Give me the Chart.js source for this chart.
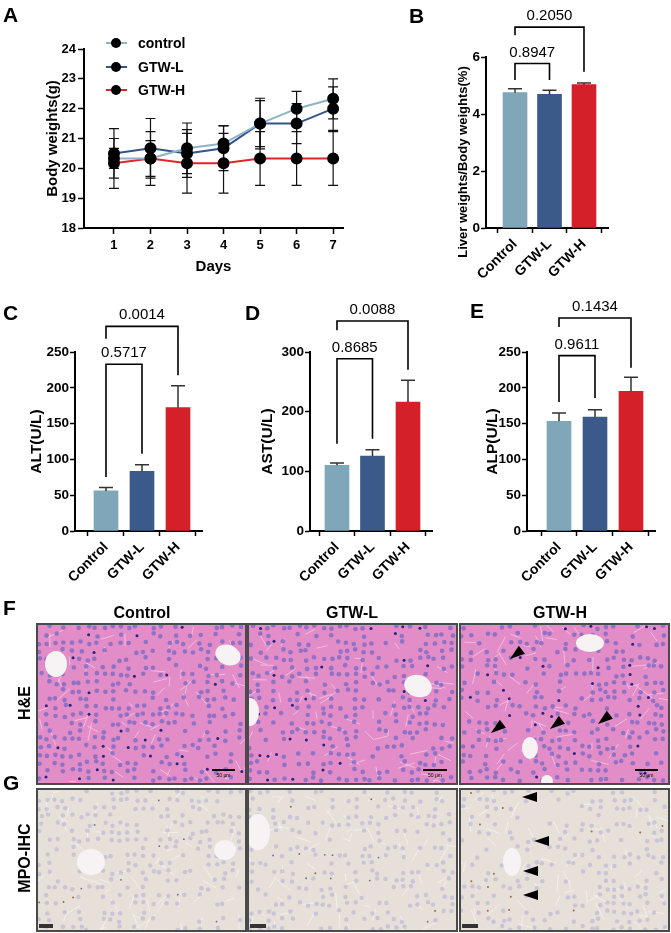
<!DOCTYPE html>
<html>
<head>
<meta charset="utf-8">
<script src="https://cdn.jsdelivr.net/npm/chart.js@4.4.1/dist/chart.umd.min.js"></script>
<style>
html, body { margin: 0; padding: 0; background: #fff; }
#fig { position: relative; width: 671px; height: 933px; overflow: hidden; font-family: "Liberation Sans", Arial, sans-serif; color: #000; }
.box { position: absolute; }
.letter { position: absolute; font-weight: bold; font-size: 21px; line-height: 21px; }
.head { position: absolute; font-weight: bold; font-size: 16px; line-height: 16px; text-align: center; }
.rowlab { position: absolute; font-weight: bold; font-size: 16px; line-height: 16px; width: 120px; text-align: center; transform: rotate(-90deg); }
</style>
</head>
<body>
<div id="fig">
  <div class="box" style="left:0;top:0;width:360px;height:280px"><canvas id="chartA"></canvas></div>
  <div class="box" style="left:430px;top:0;width:241px;height:280px"><canvas id="chartB"></canvas></div>
  <div class="box" style="left:0;top:290px;width:215px;height:300px"><canvas id="chartC"></canvas></div>
  <div class="box" style="left:225px;top:290px;width:225px;height:300px"><canvas id="chartD"></canvas></div>
  <div class="box" style="left:455px;top:290px;width:216px;height:300px"><canvas id="chartE"></canvas></div>
  <canvas id="histo" width="671" height="338" style="position:absolute;left:0;top:595px"></canvas>

  <div class="letter" style="left:3px;top:4px">A</div>
  <div class="letter" style="left:409px;top:5px">B</div>
  <div class="letter" style="left:3px;top:302px">C</div>
  <div class="letter" style="left:245px;top:302px">D</div>
  <div class="letter" style="left:470px;top:300px">E</div>
  <div class="letter" style="left:3px;top:597px">F</div>
  <div class="letter" style="left:3px;top:772px">G</div>

  <div class="head" style="left:72px;top:605px;width:140px">Control</div>
  <div class="head" style="left:282px;top:605px;width:140px">GTW-L</div>
  <div class="head" style="left:490px;top:605px;width:140px">GTW-H</div>
  <div class="rowlab" style="left:-35px;top:695px">H&amp;E</div>
  <div class="rowlab" style="left:-35px;top:850px">MPO-IHC</div>
</div>

<script>
Chart.defaults.font.family = '"Liberation Sans", Arial, sans-serif';
Chart.defaults.color = '#000';

// ---- data ----
const groups = ["Control", "GTW-L", "GTW-H"];
const barColors = ["#80a6b9", "#3b5a8a", "#d42029"];

// A: body weight over 7 days
const days = [1, 2, 3, 4, 5, 6, 7];
const seriesNames = ["control", "GTW-L", "GTW-H"];
const lineColors = ["#8db2c6", "#33538a", "#e1232b"];
const controlWeight = [20.33, 20.33, 20.67, 20.83, 21.5, 22.0, 22.33];
const gtwLWeight = [20.5, 20.67, 20.5, 20.67, 21.5, 21.5, 22.0];
const gtwHWeight = [20.17, 20.33, 20.17, 20.17, 20.33, 20.33, 20.33];
const controlSD = [1.0, 0.6, 0.85, 0.6, 0.85, 0.58, 0.67];
const gtwLSD = [0.5, 1.0, 0.8, 0.75, 0.77, 0.67, 0.73];
const gtwHSD = [0.5, 0.9, 1.0, 1.0, 0.9, 0.9, 0.9];

// B-E: group means and SD (upper bar only)
const liverRatio = [4.75, 4.69, 5.03];
const liverRatioErr = [0.14, 0.14, 0.06];
const altValues = [56, 83.3, 172.3];
const altErr = [4.6, 9.3, 30.7];
const astValues = [110, 125.7, 216.2];
const astErr = [4, 10.6, 36.5];
const alpValues = [153.2, 159.2, 195.1];
const alpErr = [11.6, 10.3, 19.5];

// p values (control vs GTW-L, control vs GTW-H)
const pLiver = ["0.8947", "0.2050"];
const pALT = ["0.5717", "0.0014"];
const pAST = ["0.8685", "0.0088"];
const pALP = ["0.9611", "0.1434"];

// ---- plugins ----
const errorBarsLine = {
  id: 'errorBarsLine',
  beforeDatasetsDraw(chart) {
    const ctx = chart.ctx, x = chart.scales.x, y = chart.scales.y;
    ctx.save();
    ctx.strokeStyle = '#111';
    ctx.lineWidth = 1.2;
    chart.data.datasets.forEach(ds => {
      ds.data.forEach((pt, i) => {
        const px = x.getPixelForValue(pt.x);
        const t = y.getPixelForValue(pt.y + ds.sd[i]);
        const b = y.getPixelForValue(pt.y - ds.sd[i]);
        ctx.beginPath();
        ctx.moveTo(px, t); ctx.lineTo(px, b);
        ctx.moveTo(px - 5, t); ctx.lineTo(px + 5, t);
        ctx.moveTo(px - 5, b); ctx.lineTo(px + 5, b);
        ctx.stroke();
      });
    });
    ctx.restore();
  }
};

const legendA = {
  id: 'legendA',
  afterDraw(chart) {
    const ctx = chart.ctx;
    ctx.save();
    const rows = [43, 67, 90];
    chart.data.datasets.forEach((ds, i) => {
      const yy = rows[i];
      ctx.strokeStyle = ds.borderColor;
      ctx.lineWidth = 2;
      ctx.beginPath(); ctx.moveTo(106, yy); ctx.lineTo(127, yy); ctx.stroke();
      ctx.fillStyle = '#000';
      ctx.beginPath(); ctx.arc(116, yy, 5, 0, Math.PI * 2); ctx.fill();
      ctx.font = 'bold 14px "Liberation Sans", Arial, sans-serif';
      ctx.textBaseline = 'middle';
      ctx.fillText(ds.label, 138, yy + 1);
    });
    ctx.restore();
  }
};

const barExtras = {
  id: 'barExtras',
  afterDatasetsDraw(chart, args, opts) {
    const ctx = chart.ctx, x = chart.scales.x, y = chart.scales.y;
    ctx.save();
    // error bars (upper half)
    ctx.strokeStyle = '#333';
    ctx.lineWidth = 1.5;
    opts.err.forEach((e, i) => {
      const px = x.getPixelForValue(i + 1);
      const b = y.getPixelForValue(opts.values[i]);
      const t = y.getPixelForValue(opts.values[i] + e);
      ctx.beginPath();
      ctx.moveTo(px, b); ctx.lineTo(px, t);
      ctx.moveTo(px - 7, t); ctx.lineTo(px + 7, t);
      ctx.stroke();
    });
    // significance brackets
    ctx.strokeStyle = '#000';
    ctx.lineWidth = 1.6;
    ctx.fillStyle = '#000';
    ctx.font = '15px "Liberation Sans", Arial, sans-serif';
    ctx.textAlign = 'center';
    ctx.textBaseline = 'alphabetic';
    opts.brackets.forEach(br => {
      const xa = x.getPixelForValue(br.a + 1), xb = x.getPixelForValue(br.b + 1);
      const yt = y.getPixelForValue(br.top);
      ctx.beginPath();
      ctx.moveTo(xa, y.getPixelForValue(br.legA));
      ctx.lineTo(xa, yt); ctx.lineTo(xb, yt);
      ctx.lineTo(xb, y.getPixelForValue(br.legB));
      ctx.stroke();
      ctx.fillText(br.text, (xa + xb) / 2, yt - 7);
    });
    // manual y title when requested
    if (opts.yTitle) {
      ctx.save();
      ctx.translate(opts.yTitle.x, opts.yTitle.y);
      ctx.rotate(-Math.PI / 2);
      ctx.font = 'bold 13px "Liberation Sans", Arial, sans-serif';
      ctx.textAlign = 'center';
      ctx.textBaseline = 'middle';
      ctx.fillText(opts.yTitle.text, 0, 0);
      ctx.restore();
    }
    ctx.restore();
  }
};

// ---- chart A ----
new Chart(document.getElementById('chartA'), {
  type: 'line',
  data: {
    datasets: [
      { label: seriesNames[0], data: days.map((d, i) => ({ x: d, y: controlWeight[i] })), sd: controlSD, borderColor: lineColors[0] },
      { label: seriesNames[1], data: days.map((d, i) => ({ x: d, y: gtwLWeight[i] })), sd: gtwLSD, borderColor: lineColors[1] },
      { label: seriesNames[2], data: days.map((d, i) => ({ x: d, y: gtwHWeight[i] })), sd: gtwHSD, borderColor: lineColors[2] }
    ].map(ds => Object.assign(ds, {
      borderWidth: 2, pointRadius: 5, pointBackgroundColor: '#000', pointBorderColor: '#000', tension: 0, fill: false
    }))
  },
  options: {
    responsive: true, maintainAspectRatio: false, animation: false,
    layout: { autoPadding: false, padding: { top: 49, right: 17, left: 0, bottom: 0 } },
    plugins: { legend: { display: false }, tooltip: { enabled: false } },
    scales: {
      x: {
        type: 'linear', min: 0.18, max: 7.27,
        afterBuildTicks: s => { s.ticks = days.map(v => ({ value: v })); },
        afterFit: s => { s.height = 52; },
        ticks: { font: { size: 13, weight: 'bold' }, padding: 4, autoSkip: false, maxRotation: 0 },
        grid: { drawOnChartArea: false, tickLength: 6, tickColor: '#000', tickWidth: 1.5 },
        border: { color: '#000', width: 2 },
        title: { display: true, text: 'Days', font: { size: 15, weight: 'bold' }, padding: { bottom: 4, top: 0 } }
      },
      y: {
        min: 18, max: 24,
        afterFit: s => { s.width = 84; },
        ticks: { stepSize: 1, font: { size: 13, weight: 'bold' }, padding: 2 },
        grid: { drawOnChartArea: false, tickLength: 6, tickColor: '#000', tickWidth: 1.5 },
        border: { color: '#000', width: 2 },
        title: { display: true, text: 'Body weights(g)', font: { size: 15, weight: 'bold' }, padding: { top: 44, bottom: 0 } }
      }
    }
  },
  plugins: [errorBarsLine, legendA]
});

// ---- bar charts B-E ----
function barChart(id, cfg) {
  return new Chart(document.getElementById(id), {
    type: 'bar',
    data: {
      datasets: [{
        data: cfg.values.map((v, i) => ({ x: i + 1, y: v })),
        backgroundColor: barColors,
        borderWidth: 0,
        barThickness: 24
      }]
    },
    options: {
      responsive: true, maintainAspectRatio: false, animation: false,
      layout: { autoPadding: false, padding: { top: cfg.pt, right: cfg.pr, left: 0, bottom: 0 } },
      plugins: {
        legend: { display: false }, tooltip: { enabled: false },
        barExtras: { values: cfg.values, err: cfg.err, brackets: cfg.brackets, yTitle: cfg.manualTitle || null }
      },
      scales: {
        x: {
          type: 'linear', min: cfg.xmin, max: cfg.xmax, offset: false,
          afterBuildTicks: s => { s.ticks = [1, 2, 3].map(v => ({ value: v })); },
          afterFit: s => { s.height = cfg.xh; },
          ticks: {
            callback: v => groups[v - 1], autoSkip: false,
            minRotation: 45, maxRotation: 45, padding: 3,
            font: { size: 14, weight: 'bold' }
          },
          grid: { drawOnChartArea: false, tickLength: 5, tickColor: '#000', tickWidth: 1.5 },
          border: { color: '#000', width: 2 }
        },
        y: {
          min: 0, max: cfg.ymax,
          afterFit: s => { s.width = cfg.yw; },
          ticks: { stepSize: cfg.step, font: { size: 13.5, weight: 'bold' }, padding: 1 },
          grid: { drawOnChartArea: false, tickLength: 5, tickColor: '#000', tickWidth: 1.5 },
          border: { color: '#000', width: 2 },
          title: {
            display: !cfg.manualTitle, text: cfg.title,
            font: { size: 15.5, weight: 'bold' }, padding: { top: cfg.tp, bottom: 0 }
          }
        }
      }
    },
    plugins: [barExtras]
  });
}

barChart('chartB', {
  values: liverRatio, err: liverRatioErr, ymax: 6, step: 2,
  pt: 57, pr: 63, yw: 56, xh: 52, xmin: 0.159, xmax: 3.696,
  manualTitle: { x: 33, y: 162, text: 'Liver weights/Body weights(%)' },
  brackets: [
    { a: 0, b: 1, top: 5.77, legA: 5.19, legB: 5.19, text: pLiver[0] },
    { a: 0, b: 2, top: 7.05, legA: 6.76, legB: 5.48, text: pLiver[1] }
  ]
});

barChart('chartC', {
  values: altValues, err: altErr, ymax: 250, step: 50, title: 'ALT(U/L)',
  pt: 62, pr: 13, yw: 75, xh: 59, tp: 27, xmin: 0.139, xmax: 3.667,
  brackets: [
    { a: 0, b: 1, top: 232.8, legA: 75.4, legB: 108, text: pALT[0] },
    { a: 0, b: 2, top: 285.8, legA: 268.6, legB: 217.4, text: pALT[1] }
  ]
});

barChart('chartD', {
  values: astValues, err: astErr, ymax: 300, step: 100, title: 'AST(U/L)',
  pt: 62, pr: 18, yw: 85, xh: 59, tp: 33, xmin: 0.24, xmax: 3.676,
  brackets: [
    { a: 0, b: 1, top: 288.8, legA: 146.4, legB: 154.7, text: pAST[0] },
    { a: 0, b: 2, top: 351.9, legA: 336.3, legB: 270.4, text: pAST[1] }
  ]
});

barChart('chartE', {
  values: alpValues, err: alpErr, ymax: 250, step: 50, title: 'ALP(U/L)',
  pt: 62, pr: 16, yw: 72, xh: 59, tp: 28, xmin: 0.111, xmax: 3.667,
  brackets: [
    { a: 0, b: 1, top: 244.9, legA: 180.2, legB: 185.8, text: pALP[0] },
    { a: 0, b: 2, top: 297.5, legA: 284.9, legB: 228.1, text: pALP[1] }
  ]
});

// ---- F/G: micrograph stand-ins (decorative texture) ----
const hc = document.getElementById('histo').getContext('2d');
const OFF = 595;
const cols = [[37, 246], [248, 457], [460, 669]];
const rowsY = [[624, 784], [789, 931]];

function tex(a, b, c) {
  const s = Math.sin(a * 12.9898 + b * 78.233 + c * 37.719) * 43758.5453;
  return s - Math.floor(s);
}

function tissue(x0, y0, x1, y1, kind, seed, brown) {
  const ctx = hc;
  ctx.save();
  ctx.beginPath(); ctx.rect(x0, y0, x1 - x0, y1 - y0); ctx.clip();
  const he = kind === 'he';
  ctx.fillStyle = he ? '#e28dc7' : '#e6e0d9';
  ctx.fillRect(x0, y0, x1 - x0, y1 - y0);
  // sinusoid streaks
  ctx.strokeStyle = he ? 'rgba(250,205,236,0.7)' : 'rgba(246,243,239,0.8)';
  ctx.lineWidth = 1;
  for (let i = 0; i < 60; i++) {
    const sx = x0 + tex(i, seed, 1) * (x1 - x0), sy = y0 + tex(i, seed, 2) * (y1 - y0);
    const ang = tex(i, seed, 3) * Math.PI, len = 6 + tex(i, seed, 4) * 12;
    ctx.beginPath(); ctx.moveTo(sx, sy); ctx.lineTo(sx + Math.cos(ang) * len, sy + Math.sin(ang) * len); ctx.stroke();
  }
  // nuclei
  for (let gy = y0 + 3; gy < y1; gy += 8) {
    for (let gx = x0 + 3; gx < x1; gx += 8) {
      const r = tex(gx, gy, seed);
      const jx = (tex(gx, gy, seed + 5) - 0.5) * 4, jy = (tex(gx, gy, seed + 9) - 0.5) * 4;
      if (he) {
        if (r < 0.55) {
          ctx.fillStyle = 'rgba(118,104,196,0.75)';
          ctx.beginPath(); ctx.arc(gx + jx, gy + jy, 2.3, 0, Math.PI * 2); ctx.fill();
        } else if (r > 0.955) {
          ctx.fillStyle = '#2a2380';
          ctx.beginPath(); ctx.arc(gx + jx, gy + jy, 1.5, 0, Math.PI * 2); ctx.fill();
        }
      } else {
        if (r < 0.45) {
          ctx.fillStyle = 'rgba(172,168,214,0.5)';
          ctx.beginPath(); ctx.arc(gx + jx, gy + jy, 2.2, 0, Math.PI * 2); ctx.fill();
        } else if (r > 1 - brown) {
          ctx.fillStyle = '#9c6a3a';
          ctx.beginPath(); ctx.arc(gx + jx, gy + jy, 1, 0, Math.PI * 2); ctx.fill();
        } else if (r > 0.975) {
          ctx.fillStyle = '#6d6c98';
          ctx.beginPath(); ctx.arc(gx + jx, gy + jy, 0.9, 0, Math.PI * 2); ctx.fill();
        }
      }
    }
  }
  ctx.restore();
}

const veins = [
  [[56, 664, 11, 13, 0], [228, 655, 13, 10, 0.4]],
  [[250, 712, 9, 14, 0], [418, 686, 14, 11, 0.3]],
  [[590, 643, 14, 9, 0], [530, 748, 8, 11, 0], [547, 781, 6, 6, 0]],
  [[91, 862, 14, 13, 0], [225, 850, 11, 10, 0]],
  [[258, 832, 12, 18, 0]],
  [[512, 862, 9, 14, 0]]
];

for (let r = 0; r < 2; r++) {
  for (let c = 0; c < 3; c++) {
    const [x0, x1] = cols[c], [y0, y1] = rowsY[r];
    tissue(x0, y0 - OFF, x1, y1 - OFF, r === 0 ? 'he' : 'ihc', r * 3 + c + 1, c === 2 ? 0.04 : 0.008);
    hc.save();
    hc.beginPath(); hc.rect(x0, y0 - OFF, x1 - x0, y1 - y0); hc.clip();
    hc.fillStyle = '#f7f3f5';
    veins[r * 3 + c].forEach(v => {
      hc.beginPath(); hc.ellipse(v[0], v[1] - OFF, v[2], v[3], v[4], 0, Math.PI * 2); hc.fill();
    });
    hc.restore();
    hc.strokeStyle = '#4a4a4a'; hc.lineWidth = 2;
    hc.strokeRect(x0, y0 - OFF, x1 - x0, y1 - y0);
  }
}

// scale bars
hc.fillStyle = '#000';
[[212, 235], [423, 447], [635, 658]].forEach(([a, b]) => {
  hc.fillRect(a, 769 - OFF, b - a, 2);
  hc.font = '5px "Liberation Sans", Arial, sans-serif';
  hc.textAlign = 'center';
  hc.fillText('50 μm', (a + b) / 2, 777 - OFF);
});
hc.fillStyle = '#333';
[[39, 53], [250, 266], [462, 478]].forEach(([a, b]) => { hc.fillRect(a, 924 - OFF, b - a, 4); });

// arrowheads
function arrow(tx, ty, ang) {
  const len = 15, hw = 5;
  const bx = tx - Math.cos(ang) * len, by = ty - Math.sin(ang) * len;
  const nx = -Math.sin(ang) * hw, ny = Math.cos(ang) * hw;
  hc.fillStyle = '#000';
  hc.beginPath();
  hc.moveTo(tx, ty - OFF);
  hc.lineTo(bx + nx, by + ny - OFF);
  hc.lineTo(bx - nx, by - ny - OFF);
  hc.closePath(); hc.fill();
}
[[510, 659], [491, 733], [550, 729], [598, 724]].forEach(p => arrow(p[0], p[1], Math.PI * 0.79));
[[522, 797], [534, 841], [523, 871], [523, 895]].forEach(p => arrow(p[0], p[1], Math.PI));
</script>
</body>
</html>
